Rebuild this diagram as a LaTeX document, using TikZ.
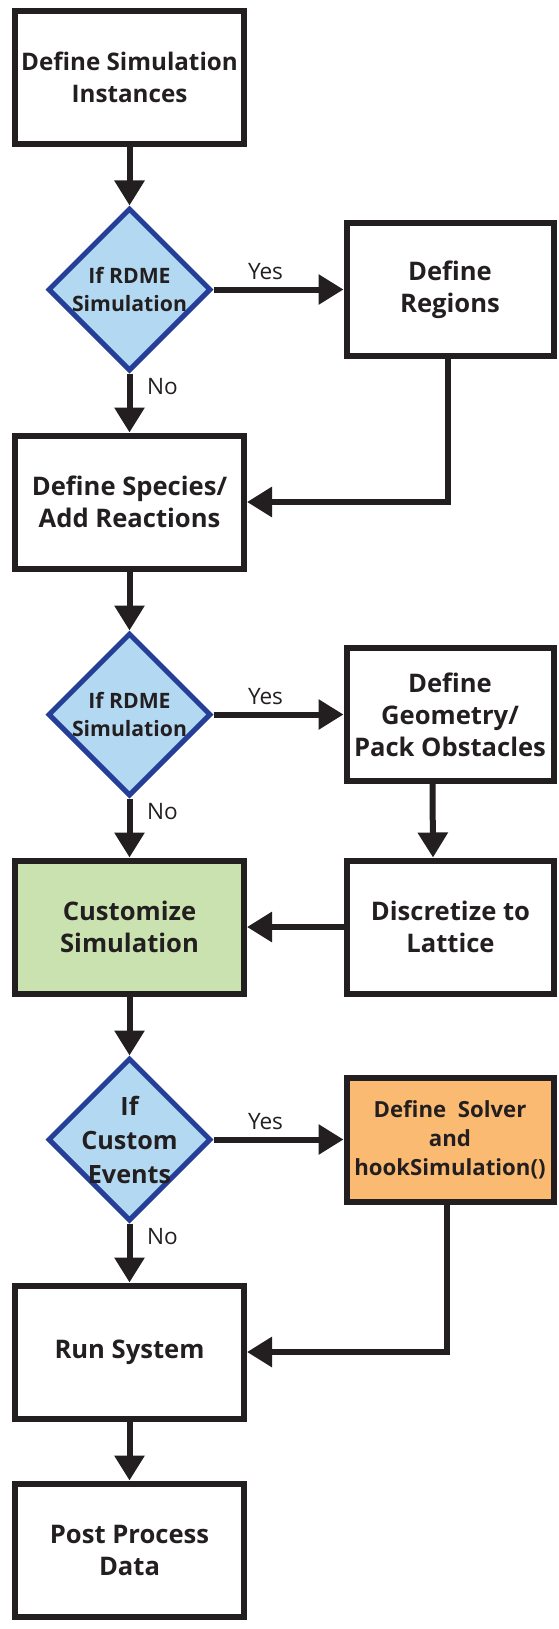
\documentclass[tikz,border=0pt]{standalone}
\usepackage{fontspec}
\setmainfont{Open Sans}
\usepackage{tikz}
\usetikzlibrary{arrows.meta,positioning,shapes.geometric}
\definecolor{flowblack}{HTML}{231F20}
\definecolor{ifblue}{HTML}{B3D8F1}
\definecolor{ifedge}{HTML}{253F98}
\definecolor{customgreen}{HTML}{CAE2B0}
\definecolor{solverorange}{HTML}{FBBA72}

\begin{document}
\begin{tikzpicture}[x=0.5pt, y=-0.5pt, node distance=29.5pt, >={Triangle[width=14.5pt,length=12.5pt]}]
\tikzstyle{box}=[draw=flowblack, line width=3pt, minimum width=114.5pt, minimum height=66.5pt, inner sep=0pt, align=center, text=flowblack, font=\bfseries\fontsize{12.8}{16}\selectfont]
\tikzstyle{rbox}=[box, minimum width=103.5pt]
\tikzstyle{ifnode}=[diamond, draw=ifedge, fill=ifblue, line width=2.5pt, minimum size=81.5pt, inner sep=0pt]
\tikzstyle{iftext}=[align=center, text=flowblack, font=\bfseries\fontsize{10.6}{14}\selectfont]
\tikzstyle{flow}=[->, draw=flowblack, line width=3pt]
\tikzstyle{answer}=[text=flowblack, font=\fontsize{11.3}{14}\selectfont]
\useasboundingbox (0,0) rectangle (558,1629);
% main column
\node[box, font=\bfseries\fontsize{12.1}{16}\selectfont] (box1) at (129.5,77) {Define Simulation\\Instances};
\node[ifnode, below=of box1, label={[iftext]center:{If RDME\\Simulation}}] (dia1) {};
\node[box, below=of dia1] (box2) {Define Species/\\Add Reactions};
\node[ifnode, below=of box2, label={[iftext]center:{If RDME\\Simulation}}] (dia2) {};
\node[box, below=of dia2, fill=customgreen] (cust) {Customize\\Simulation};
\node[ifnode, below=of cust, label={[iftext, font=\bfseries\fontsize{12.6}{17}\selectfont]center:{If\\Custom\\Events}}] (dia3) {};
\node[box, below=of dia3] (run) {Run System};
\node[box, below=of run] (post) {Post Process\\Data};
% side column
\node[rbox, right=65pt of dia1] (regions) {Define\\Regions};
\node[rbox, right=65pt of dia2] (geometry) {Define\\Geometry/\\Pack Obstacles};
\node[rbox, right=48.5pt of cust] (discretize) {Discretize to\\Lattice};
\node[rbox, right=65pt of dia3, minimum height=62pt, fill=solverorange, font=\bfseries\fontsize{11.1}{14.5}\selectfont] (solver) {Define\ \ Solver\\and\\hookSimulation()};
% connectors
\draw[flow] (box1) -- (dia1);
\draw[flow] (dia1) -- node[answer, above, pos=0.4] (yes1) {Yes} (regions);
\draw[flow] (dia1) -- node[answer, right=4pt, pos=0.22] (no1) {No} (box2);
\draw[flow] ([xshift=-1.25pt]regions.south) |- (box2);
\draw[flow] (box2) -- (dia2);
\draw[flow] (dia2) -- node[answer, above, pos=0.4] (yes2) {Yes} (geometry);
\draw[flow] (dia2) -- node[answer, right=4pt, pos=0.22] (no2) {No} (cust);
\draw[flow] ([xshift=-8.75pt]geometry.south) -- ([xshift=-8.75pt]discretize.north);
\draw[flow] (discretize) -- (cust);
\draw[flow] (cust) -- (dia3);
\draw[flow] (dia3) -- node[answer, above, pos=0.4] (yes3) {Yes} (solver);
\draw[flow] (dia3) -- node[answer, right=4pt, pos=0.22] (no3) {No} (run);
\draw[flow] ([xshift=-1.75pt]solver.south) |- (run);
\draw[flow] (run) -- (post);
\end{tikzpicture}
\end{document}
